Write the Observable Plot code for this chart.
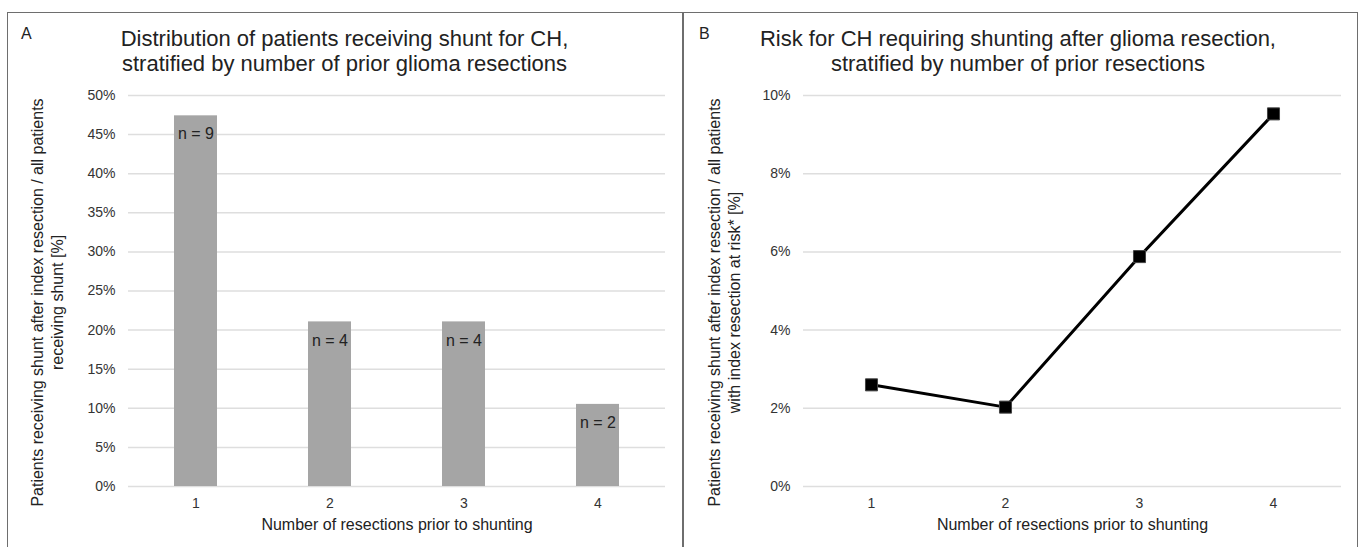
<!DOCTYPE html>
<html>
<head>
<meta charset="utf-8">
<script src="https://cdn.jsdelivr.net/npm/d3@7"></script>
<script src="https://cdn.jsdelivr.net/npm/@observablehq/plot@0.6"></script>
<style>
  html, body { margin: 0; padding: 0; background: #fff; }
  #root { position: relative; width: 1363px; height: 547px; overflow: hidden;
          font-family: "Liberation Sans", Arial, Helvetica, sans-serif; color: #222; }
  .title { position: absolute; text-align: center; font-size: 22px; line-height: 25px; top: 26px; }
  .tag { position: absolute; font-size: 16px; line-height: 16px; top: 25.5px; }
  .frame { position: absolute; left: 6.5px; top: 12px; width: 1351.5px; height: 560px;
           border: 1.5px solid #6e6e6e; box-sizing: border-box; pointer-events: none; z-index: 5; }
  .divider { position: absolute; left: 682px; top: 12px; width: 1.5px; height: 540px;
             background: #6e6e6e; z-index: 5; }
  .chart { position: absolute; top: 0; }
</style>
</head>
<body>
<div id="root">
  <div class="chart" id="chartA" style="left:0px"></div>
  <div class="chart" id="chartB" style="left:682px"></div>
  <div class="tag" style="left:21px">A</div>
  <div class="tag" style="left:699px">B</div>
  <div class="title" style="left:7px;width:675px">Distribution of patients receiving shunt for CH,<br>stratified by number of prior glioma resections</div>
  <div class="title" style="left:681px;width:674px">Risk for CH requiring shunting after glioma resection,<br>stratified by number of prior resections</div>
  <div class="frame"></div>
  <div class="divider"></div>
</div>
<script>
// ---- Data ----
const resections = [1, 2, 3, 4];
// Panel A: share of shunted patients (%) and counts
const shuntShare = [47.4, 21.05, 21.05, 10.5];
const shuntCounts = [9, 4, 4, 2];
const shuntLabels = ["n = 9", "n = 4", "n = 4", "n = 2"];
// Panel B: risk (%)
const riskValues = [2.6, 2.03, 5.88, 9.53];
// Ticks
const yTicksA = [0, 5, 10, 15, 20, 25, 30, 35, 40, 45, 50];
const yTicksB = [0, 2, 4, 6, 8, 10];

const xTitle = "Number of resections prior to shunting";
const yTitleA = "Patients receiving shunt after index resection / all patients\nreceiving shunt [%]";
const yTitleB = "Patients receiving shunt after index resection / all patients\nwith index resection at risk* [%]";

const dataA = resections.map((k, i) => ({k, pct: shuntShare[i], n: shuntCounts[i], label: shuntLabels[i]}));
const dataB = resections.map((k, i) => ({k, risk: riskValues[i]}));

const font = '"Liberation Sans", Arial, Helvetica, sans-serif';
const baseStyle = {fontFamily: font, fontSize: "14px", color: "#333", background: "transparent", overflow: "visible"};
const gridColor = "#dedede";
const textColor = "#222";

// ---- Panel A ----
const plotA = Plot.plot({
  width: 682, height: 547,
  marginLeft: 128, marginRight: 17, marginTop: 95, marginBottom: 61,
  style: baseStyle,
  x: {type: "band", domain: resections, paddingInner: 0.68, paddingOuter: 0.34, label: null},
  y: {domain: [0, 50], label: null},
  marks: [
    Plot.gridY(yTicksA, {stroke: gridColor, strokeOpacity: 1, strokeWidth: 1.5}),
    Plot.barY(dataA, {x: "k", y: "pct", fill: "#a5a5a5"}),
    Plot.text(dataA, {x: "k", y: "pct", text: "label", lineAnchor: "middle", dy: 18.5, fontSize: 16, fill: textColor}),
    Plot.axisY({ticks: yTicksA, tickSize: 0, tickPadding: 13, tickFormat: d => d + "%", label: null, fontSize: 14, fill: "#333"}),
    Plot.axisX({tickSize: 0, tickPadding: 12, label: null, fontSize: 14, fill: "#333"}),
    Plot.text([xTitle], {frameAnchor: "bottom", lineAnchor: "middle", dy: 38.5, fontSize: 16, fill: textColor}),
    Plot.text([yTitleA], {frameAnchor: "left", rotate: -90, textAnchor: "middle", lineAnchor: "middle",
                          lineHeight: 1.22, dx: -82, dy: 11.5, fontSize: 16, fill: textColor})
  ]
});
document.getElementById("chartA").appendChild(plotA);

// ---- Panel B ----
const plotB = Plot.plot({
  width: 681, height: 547,
  marginLeft: 121, marginRight: 22, marginTop: 95, marginBottom: 61,
  style: baseStyle,
  x: {type: "point", domain: resections, padding: 0.5, label: null},
  y: {domain: [0, 10], label: null},
  marks: [
    Plot.gridY(yTicksB, {stroke: gridColor, strokeOpacity: 1, strokeWidth: 1.5}),
    Plot.line(dataB, {x: "k", y: "risk", stroke: "#000", strokeWidth: 3}),
    Plot.dot(dataB, {x: "k", y: "risk", symbol: "square", r: 6.8, fill: "#000", stroke: "#444", strokeWidth: 1}),
    Plot.axisY({ticks: yTicksB, tickSize: 0, tickPadding: 13, tickFormat: d => d + "%", label: null, fontSize: 14, fill: "#333"}),
    Plot.axisX({tickSize: 0, tickPadding: 12, label: null, fontSize: 14, fill: "#333"}),
    Plot.text([xTitle], {frameAnchor: "bottom", lineAnchor: "middle", dy: 38.5, fontSize: 16, fill: textColor}),
    Plot.text([yTitleB], {frameAnchor: "left", rotate: -90, textAnchor: "middle", lineAnchor: "middle",
                          lineHeight: 1.22, dx: -80, dy: 11.5, fontSize: 16, fill: textColor})
  ]
});
document.getElementById("chartB").appendChild(plotB);
</script>
</body>
</html>
